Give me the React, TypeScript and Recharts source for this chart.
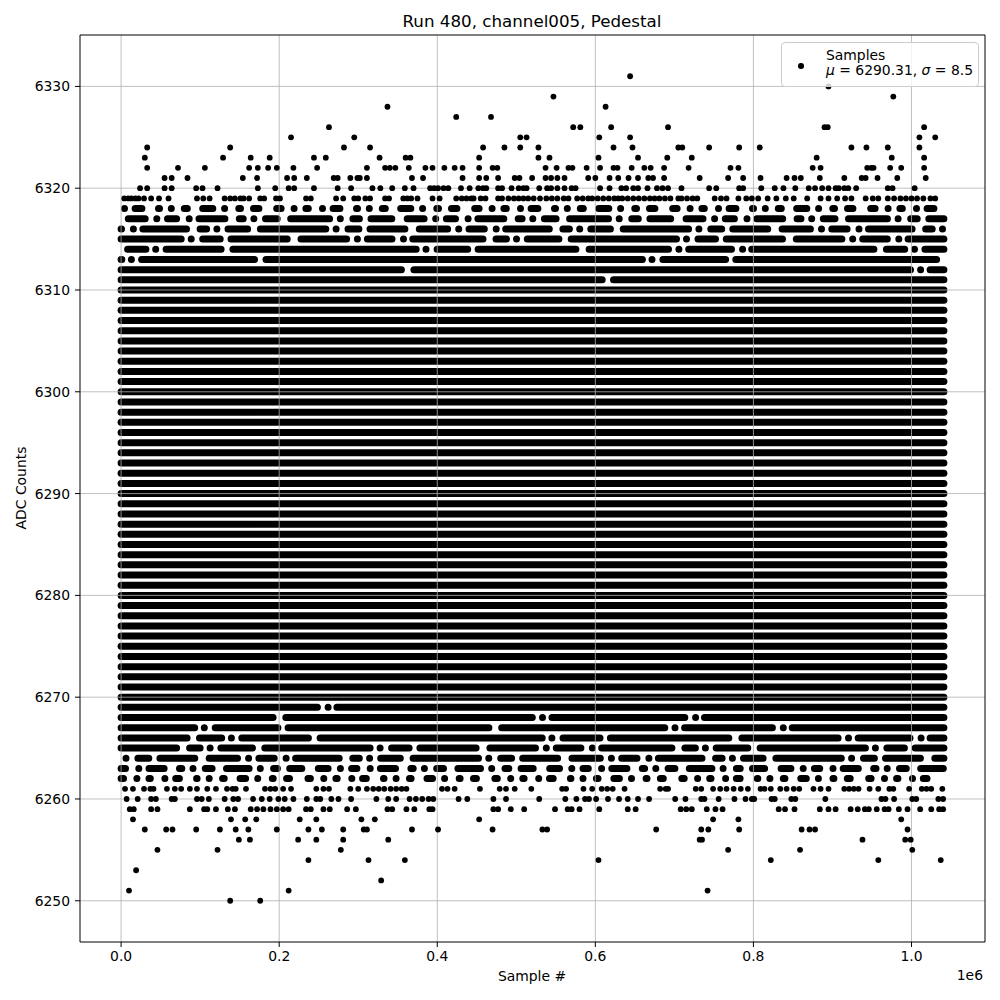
import React from 'react'
import { ComposedChart, Line, ReferenceLine, Scatter, XAxis, YAxis } from 'recharts'

// x values are sample numbers in units of 1e6 (axis offset text "1e6")
const xTicks = [0, 0.2, 0.4, 0.6, 0.8, 1.0]
const yTicks = [6250, 6260, 6270, 6280, 6290, 6300, 6310, 6320, 6330]
const xDomain: [number, number] = [-0.052, 1.093]
const yDomain: [number, number] = [6245.95, 6335.05]
const sampleSpan = [0, 1.041]

// ADC levels hit so often that the samples merge into rows, and the share of the row that is filled
const denseLevels = [
  6262, 6263, 6264, 6265, 6266, 6267, 6268, 6269, 6270, 6271, 6272, 6273, 6274, 6275, 6276,
  6277, 6278, 6279, 6280, 6281, 6282, 6283, 6284, 6285, 6286, 6287, 6288, 6289, 6290, 6291,
  6292, 6293, 6294, 6295, 6296, 6297, 6298, 6299, 6300, 6301, 6302, 6303, 6304, 6305, 6306,
  6307, 6308, 6309, 6310, 6311, 6312, 6313, 6314, 6315, 6316, 6317, 6318,
]
const denseCoverage = [
  0.55, 0.7, 0.85, 0.9, 0.95, 0.97, 0.98, 0.99, 1, 1, 1, 1, 1, 1, 1,
  1, 1, 1, 1, 1, 1, 1, 1, 1, 1, 1, 1, 1, 1, 1,
  1, 1, 1, 1, 1, 1, 1, 1, 1, 1, 1, 1, 1, 1, 1,
  1, 1, 1, 1, 0.995, 0.99, 0.97, 0.94, 0.9, 0.85, 0.78, 0.6,
]

// rare levels: each sample position
const sparseLevels = [
  6250, 6251, 6252, 6253, 6254, 6255, 6256, 6257, 6258, 6259, 6260, 6261,
  6319, 6320, 6321, 6322, 6323, 6324, 6325, 6326, 6327, 6328, 6329, 6330, 6331,
]
const sparseX: number[][] = [
  [0.138, 0.176],
  [0.010, 0.212, 0.742],
  [0.329],
  [0.019],
  [0.237, 0.313, 0.359, 0.604, 0.822, 0.958, 1.037],
  [0.046, 0.122, 0.278, 0.768, 0.859, 1.001],
  [0.149, 0.163, 0.224, 0.247, 0.281, 0.338, 0.732, 0.735, 0.938, 0.992, 0.999],
  [0.030, 0.057, 0.065, 0.095, 0.125, 0.145, 0.161, 0.197, 0.237, 0.254, 0.281, 0.307, 0.311,
    0.368, 0.401, 0.470, 0.533, 0.539, 0.677, 0.734, 0.743, 0.782, 0.861, 0.871, 0.878, 0.995],
  [0.015, 0.139, 0.157, 0.171, 0.226, 0.247, 0.304, 0.321, 0.453, 0.749, 0.781, 0.987],
  [0.011, 0.016, 0.038, 0.046, 0.087, 0.105, 0.109, 0.120, 0.135, 0.144, 0.164, 0.172, 0.180,
    0.189, 0.197, 0.205, 0.212, 0.234, 0.240, 0.256, 0.264, 0.286, 0.297, 0.337, 0.343, 0.361,
    0.371, 0.390, 0.394, 0.471, 0.477, 0.493, 0.510, 0.549, 0.565, 0.570, 0.580, 0.605, 0.641,
    0.651, 0.708, 0.715, 0.722, 0.741, 0.752, 0.761, 0.832, 0.840, 0.852, 0.884, 0.895, 0.904,
    0.923, 0.932, 0.941, 0.946, 0.956, 0.966, 0.971, 0.984, 0.995, 1.011, 1.025, 1.035, 1.040],
  [0.007, 0.021, 0.038, 0.044, 0.064, 0.068, 0.096, 0.102, 0.111, 0.131, 0.142, 0.148, 0.167,
    0.178, 0.188, 0.199, 0.207, 0.218, 0.235, 0.247, 0.252, 0.266, 0.275, 0.291, 0.323, 0.338,
    0.348, 0.365, 0.373, 0.381, 0.389, 0.395, 0.427, 0.438, 0.471, 0.487, 0.529, 0.562, 0.576,
    0.587, 0.592, 0.601, 0.616, 0.630, 0.641, 0.654, 0.668, 0.701, 0.714, 0.734, 0.738, 0.756,
    0.776, 0.790, 0.798, 0.801, 0.823, 0.827, 0.848, 0.853, 0.891, 0.962, 0.967, 0.978, 1.001,
    1.006, 1.034, 1.040],
  [0.005, 0.015, 0.029, 0.037, 0.041, 0.058, 0.068, 0.076, 0.087, 0.096, 0.109, 0.120, 0.134,
    0.141, 0.145, 0.158, 0.182, 0.189, 0.195, 0.205, 0.215, 0.247, 0.256, 0.263, 0.290, 0.300,
    0.311, 0.319, 0.326, 0.333, 0.341, 0.348, 0.355, 0.361, 0.406, 0.413, 0.422, 0.454, 0.479,
    0.487, 0.498, 0.519, 0.558, 0.563, 0.585, 0.596, 0.608, 0.615, 0.622, 0.637, 0.682, 0.689,
    0.692, 0.727, 0.734, 0.749, 0.758, 0.766, 0.775, 0.784, 0.793, 0.809, 0.814, 0.822, 0.834,
    0.842, 0.851, 0.858, 0.876, 0.885, 0.895, 0.915, 0.921, 0.927, 0.933, 0.947, 0.958, 0.972,
    0.977, 0.997, 1.013, 1.019, 1.025, 1.039],
  [0.004, 0.009, 0.013, 0.018, 0.022, 0.029, 0.038, 0.048, 0.060, 0.096, 0.104, 0.112, 0.131,
    0.138, 0.144, 0.151, 0.155, 0.162, 0.176, 0.181, 0.196, 0.201, 0.234, 0.240, 0.272, 0.281,
    0.295, 0.300, 0.309, 0.315, 0.334, 0.339, 0.357, 0.362, 0.367, 0.375, 0.394, 0.403, 0.424,
    0.431, 0.437, 0.443, 0.446, 0.455, 0.461, 0.477, 0.482, 0.490, 0.497, 0.503, 0.509, 0.515,
    0.522, 0.530, 0.538, 0.545, 0.552, 0.560, 0.566, 0.577, 0.584, 0.591, 0.596, 0.603, 0.610,
    0.617, 0.624, 0.629, 0.634, 0.641, 0.648, 0.655, 0.662, 0.669, 0.675, 0.681, 0.688, 0.695,
    0.705, 0.709, 0.716, 0.723, 0.729, 0.751, 0.759, 0.766, 0.781, 0.791, 0.798, 0.806, 0.818,
    0.829, 0.841, 0.851, 0.868, 0.885, 0.895, 0.906, 0.916, 0.924, 0.942, 0.951, 0.958, 0.970,
    0.978, 0.986, 0.993, 1.000, 1.007, 1.015, 1.024, 1.030],
  [0.024, 0.033, 0.055, 0.064, 0.095, 0.103, 0.122, 0.173, 0.195, 0.212, 0.219, 0.244, 0.274,
    0.291, 0.318, 0.328, 0.343, 0.359, 0.370, 0.391, 0.396, 0.401, 0.408, 0.414, 0.430, 0.441,
    0.452, 0.458, 0.462, 0.477, 0.482, 0.494, 0.503, 0.509, 0.513, 0.529, 0.539, 0.544, 0.552,
    0.561, 0.570, 0.575, 0.606, 0.618, 0.633, 0.639, 0.648, 0.654, 0.666, 0.678, 0.685, 0.692,
    0.709, 0.744, 0.753, 0.782, 0.787, 0.810, 0.827, 0.838, 0.853, 0.870, 0.878, 0.887, 0.895,
    0.904, 0.908, 0.915, 0.920, 0.930, 0.970, 0.976, 1.004],
  [0.055, 0.064, 0.084, 0.154, 0.172, 0.210, 0.219, 0.235, 0.269, 0.274, 0.290, 0.299, 0.302,
    0.311, 0.368, 0.382, 0.432, 0.453, 0.462, 0.477, 0.498, 0.504, 0.520, 0.537, 0.544, 0.552,
    0.561, 0.591, 0.600, 0.618, 0.629, 0.642, 0.654, 0.667, 0.673, 0.687, 0.732, 0.768, 0.787,
    0.809, 0.842, 0.852, 0.860, 0.884, 0.915, 0.937, 0.942, 0.957, 0.982, 1.018],
  [0.033, 0.072, 0.106, 0.162, 0.173, 0.186, 0.197, 0.218, 0.248, 0.311, 0.334, 0.340, 0.347,
    0.364, 0.385, 0.394, 0.409, 0.422, 0.432, 0.453, 0.470, 0.476, 0.537, 0.551, 0.566, 0.571,
    0.589, 0.606, 0.623, 0.628, 0.646, 0.662, 0.670, 0.687, 0.718, 0.771, 0.781, 0.875, 0.885,
    0.944, 0.949, 0.952, 0.973, 0.987, 1.016],
  [0.030, 0.129, 0.164, 0.188, 0.244, 0.259, 0.327, 0.360, 0.366, 0.453, 0.528, 0.542, 0.604,
    0.654, 0.691, 0.722, 0.880, 0.975, 1.016],
  [0.033, 0.138, 0.282, 0.315, 0.458, 0.485, 0.505, 0.528, 0.623, 0.647, 0.705, 0.710, 0.744,
    0.782, 0.808, 0.924, 0.943, 0.970, 1.010],
  [0.215, 0.295, 0.505, 0.513, 0.605, 0.644, 1.010, 1.030],
  [0.263, 0.572, 0.581, 0.620, 0.692, 0.890, 0.894, 1.016],
  [0.424, 0.468],
  [0.337, 0.613],
  [0.547, 0.977],
  [0.895],
  [0.644],
]

const ROW = 7 // drawn thickness of a merged row of markers
const DASH = [26, 0, 14, 0, 40, 6, 0, 18, 60, 0, 10, 32]
const GAP = [5, 4, 6, 3, 8, 4, 5, 7, 4, 6, 5, 9]
const sum = (a: number[]) => a.reduce((s, v) => s + v, 0)

// broken row look for levels that are not completely filled
function rowStyle(c: number, i: number) {
  if (c >= 1) return {}
  const s = 0.6 + 1.5 * (1 - c)
  const dark = (c / (1 - c)) * sum(GAP) * s
  const m = Math.max(0, (dark - DASH.length * ROW) / sum(DASH))
  const parts: number[] = []
  for (let k = 0; k < DASH.length; k++) {
    const j = (k + i * 5) % DASH.length
    parts.push(DASH[j] * m, GAP[j] * s + ROW)
  }
  const cycle = sum(parts)
  return { strokeDasharray: parts.map((p) => p.toFixed(1)).join(' '), strokeDashoffset: (i * 173) % cycle }
}

const sparsePoints = sparseLevels.flatMap((lvl, i) => sparseX[i].map((x) => ({ x, y: lvl })))

const font = 'DejaVu Sans, sans-serif'
const tickStyle = { fontSize: 13.9, fill: '#000', fontFamily: font }

const Dot = (p: any) => <circle cx={p.cx} cy={p.cy} r={2.9} fill="#000" />

export default function App() {
  return (
    <div style={{ position: 'absolute', left: 0, top: 0, width: 1000, height: 1000, background: '#fff', fontFamily: font, color: '#000' }}>
      <ComposedChart width={1000} height={1000} margin={{ top: 35, right: 15, bottom: 28, left: 20 }}>
        <XAxis
          type="number"
          dataKey="x"
          domain={xDomain}
          ticks={xTicks}
          allowDataOverflow
          tickFormatter={(v: number) => v.toFixed(1)}
          tick={tickStyle}
          tickSize={5}
          tickMargin={4}
          height={30}
          stroke="#000"
        />
        <YAxis
          type="number"
          dataKey="y"
          domain={yDomain}
          ticks={yTicks}
          allowDataOverflow
          tick={tickStyle}
          tickSize={5}
          tickMargin={5}
          width={60}
          stroke="#000"
        />
        {denseLevels.map((lvl, i) => (
          <Line
            key={lvl}
            data={[{ x: sampleSpan[0], y: lvl }, { x: sampleSpan[1], y: lvl }]}
            dataKey="y"
            stroke="#000"
            strokeWidth={ROW}
            strokeLinecap="round"
            {...rowStyle(denseCoverage[i], i)}
            dot={false}
            activeDot={false}
            legendType="none"
            isAnimationActive={false}
          />
        ))}
        <Scatter data={sparsePoints} dataKey="y" shape={Dot} isAnimationActive={false} />
        {xTicks.map((t) => (
          <ReferenceLine key={'gx' + t} x={t} stroke="#b0b0b0" strokeWidth={0.8} />
        ))}
        {yTicks.map((t) => (
          <ReferenceLine key={'gy' + t} y={t} stroke="#b0b0b0" strokeWidth={0.8} />
        ))}
        <ReferenceLine x={xDomain[1]} stroke="#000" strokeWidth={1} ifOverflow="visible" />
        <ReferenceLine y={yDomain[1]} stroke="#000" strokeWidth={1} ifOverflow="visible" />
      </ComposedChart>

      <div style={{ position: 'absolute', left: 532, top: 21, transform: 'translate(-50%, -50%)', fontSize: 16.7, whiteSpace: 'nowrap' }}>
        Run 480, channel005, Pedestal
      </div>
      <div style={{ position: 'absolute', left: 532, top: 976, transform: 'translate(-50%, -50%)', fontSize: 13.9, whiteSpace: 'nowrap' }}>
        Sample #
      </div>
      <div style={{ position: 'absolute', right: 17, top: 975, transform: 'translateY(-50%)', fontSize: 13.9 }}>1e6</div>
      <div
        style={{
          position: 'absolute', left: 21, top: 488, transform: 'translate(-50%, -50%) rotate(-90deg)',
          fontSize: 13.9, whiteSpace: 'nowrap',
        }}
      >
        ADC Counts
      </div>

      <div
        style={{
          position: 'absolute', left: 781, top: 42, width: 198, height: 45, boxSizing: 'border-box',
          border: '1px solid #cccccc', borderRadius: 4, background: 'rgba(255,255,255,0.8)', fontSize: 13.9,
        }}
      >
        <div style={{ position: 'absolute', left: 16, top: 20, width: 5.6, height: 5.6, borderRadius: '50%', background: '#000' }} />
        <div style={{ position: 'absolute', left: 44, top: 5, lineHeight: '15px', whiteSpace: 'nowrap' }}>
          <div>Samples</div>
          <div>
            <i>μ</i> = 6290.31, <i>σ</i> = 8.5
          </div>
        </div>
      </div>
    </div>
  )
}
